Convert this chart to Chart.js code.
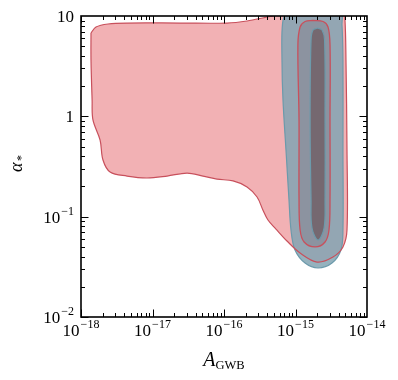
<!DOCTYPE html>
<html>
<head>
<meta charset="utf-8">
<script src="https://cdn.jsdelivr.net/npm/chart.js@4.4.1/dist/chart.umd.min.js"></script>
<style>
  html, body { margin: 0; padding: 0; background: #fff; }
  #wrap { width: 398px; height: 380px; }
</style>
</head>
<body>
<div id="wrap"><canvas id="contours" width="398" height="380"></canvas></div>
<script>
// contour outlines, as (A_GWB, alpha_*) pairs
const redOuterX = [1.38e-18, 1.38e-18, 1.43e-18, 1.47e-18, 1.85e-18, 2.03e-18, 2.55e-18, 4.40e-18, 8.37e-18, 1.60e-17, 3.04e-17, 5.09e-17, 7.98e-17, 1.34e-16, 2.10e-16, 2.90e-16, 3.51e-16, 4.12e-16, 5.33e-16, 7.60e-16, 1.16e-15, 2.00e-15, 3.34e-15, 4.61e-15, 5.25e-15, 5.25e-15, 5.08e-15, 4.92e-15, 4.61e-15, 1.16e-15, 5.51e-16, 3.99e-16, 2.10e-16, 1.10e-16, 2.43e-17, 4.40e-18, 2.39e-18, 1.62e-18, 1.38e-18];
const redOuterY = [6.77, 3.64, 1.46, 0.92, 0.58, 0.367, 0.279, 0.254, 0.243, 0.254, 0.272, 0.254, 0.237, 0.227, 0.198, 0.157, 0.116, 0.0927, 0.0753, 0.0572, 0.0434, 0.0353, 0.0396, 0.0499, 0.0736, 0.461, 3.64, 9.12, 12, 12, 10.2, 9.77, 8.92, 8.51, 8.51, 8.51, 8.32, 7.76, 6.77];

const blueOuterX = [7.8e-16, 6.6e-16, 6.47e-16, 6.68e-16, 7.36e-16, 8.11e-16, 8.65e-16, 9.84e-16, 1.36e-15, 2.07e-15, 3.24e-15, 4.32e-15, 4.61e-15, 4.61e-15, 4.61e-15, 4.47e-15, 4.19e-15, 7.8e-16];
const blueOuterY = [12.9, 8.5, 3.64, 1.46, 0.461, 0.147, 0.0736, 0.0465, 0.0345, 0.0308, 0.0345, 0.0465, 0.0736, 0.461, 3.64, 8.13, 12.9, 12.9];

const redInnerX = [1.76e-15, 2.43e-15, 2.85e-15, 3.04e-15, 3.04e-15, 3.04e-15, 2.94e-15, 2.59e-15, 1.88e-15, 1.32e-15, 1.16e-15, 1.12e-15, 1.12e-15, 1.08e-15, 1.16e-15, 1.36e-15, 1.76e-15];
const redInnerY = [9.02, 8.81, 7.77, 5.14, 0.918, 0.147, 0.0736, 0.0559, 0.0499, 0.0559, 0.0736, 0.147, 0.918, 5.14, 7.77, 8.81, 9.02];

const blueInnerX = [2.03e-15, 2.35e-15, 2.55e-15, 2.59e-15, 2.59e-15, 2.51e-15, 2.07e-15, 1.70e-15, 1.65e-15, 1.60e-15, 1.65e-15, 1.76e-15, 2.03e-15];
const blueInnerY = [7.59, 7.25, 5.77, 0.918, 0.147, 0.0771, 0.0585, 0.0771, 0.147, 0.918, 5.77, 7.25, 7.59];

const xTickValues = [1e-18, 1e-17, 1e-16, 1e-15, 1e-14];
const xTickLabels = [['10', '\u221218'], ['10', '\u221217'], ['10', '\u221216'], ['10', '\u221215'], ['10', '\u221214']];
const yTickValues = [0.01, 0.1, 1, 10];
const yTickLabels = [['10', '\u22122'], ['10', '\u22121'], ['1', ''], ['10', '']];

const SERIF = '"Liberation Serif", "DejaVu Serif", serif';

function pts(xs, ys) {
    return xs.map((x, i) => ({ x: x, y: ys[i] }));
}

function shape(xs, ys, fillColor, lineColor, lineWidth, order) {
    return {
        data: pts(xs, ys),
        showLine: true,
        pointRadius: 0,
        pointHoverRadius: 0,
        tension: 0.35,
        fill: fillColor ? 'shape' : false,
        backgroundColor: fillColor || 'transparent',
        borderColor: lineColor || 'transparent',
        borderWidth: lineWidth,
        clip: 0,
        order: order
    };
}

// superscript style label, e.g. 10^-16
function drawPow(ctx, mant, exp, x, y, align) {
    ctx.font = '17px ' + SERIF;
    const w1 = ctx.measureText(mant).width;
    ctx.font = '12px ' + SERIF;
    const w2 = exp ? ctx.measureText(exp).width + 1 : 0;
    const total = w1 + w2;
    const x0 = align === 'center' ? x - total / 2 : x - total;
    ctx.textAlign = 'left';
    ctx.textBaseline = 'alphabetic';
    ctx.font = '17px ' + SERIF;
    ctx.fillText(mant, x0, y);
    if (exp) {
        ctx.font = '12px ' + SERIF;
        ctx.fillText(exp, x0 + w1 + 1, y - 8);
    }
}

const framePlugin = {
    id: 'frame',
    afterDraw(chart) {
        const ctx = chart.ctx;
        const a = chart.chartArea;
        const xs = chart.scales.x;
        const ys = chart.scales.y;
        ctx.save();
        ctx.strokeStyle = '#000';
        ctx.fillStyle = '#000';

        // ticks, pointing inwards on every side
        ctx.lineWidth = 1;
        ctx.beginPath();
        for (let d = -18; d < -14; d++) {
            for (let m = 1; m < 10; m++) {
                const px = Math.round(xs.getPixelForValue(m * Math.pow(10, d))) + 0.5;
                const len = m === 1 ? 7.5 : 4;
                ctx.moveTo(px, a.bottom); ctx.lineTo(px, a.bottom - len);
                ctx.moveTo(px, a.top); ctx.lineTo(px, a.top + len);
            }
        }
        for (let d = -2; d < 1; d++) {
            for (let m = 1; m < 10; m++) {
                const py = Math.round(ys.getPixelForValue(m * Math.pow(10, d))) + 0.5;
                const len = m === 1 ? 7.5 : 4;
                ctx.moveTo(a.left, py); ctx.lineTo(a.left + len, py);
                ctx.moveTo(a.right, py); ctx.lineTo(a.right - len, py);
            }
        }
        ctx.stroke();

        ctx.lineWidth = 1.6;
        ctx.strokeRect(a.left, a.top, a.right - a.left, a.bottom - a.top);

        // tick labels
        xTickValues.forEach((v, i) => {
            drawPow(ctx, xTickLabels[i][0], xTickLabels[i][1], xs.getPixelForValue(v), a.bottom + 19, 'center');
        });
        yTickValues.forEach((v, i) => {
            drawPow(ctx, yTickLabels[i][0], yTickLabels[i][1], a.left - 7, ys.getPixelForValue(v) + 6, 'right');
        });

        // axis titles
        ctx.textAlign = 'left';
        ctx.font = 'italic 20px ' + SERIF;
        const aw = ctx.measureText('A').width;
        ctx.font = '12.5px ' + SERIF;
        const gw = ctx.measureText('GWB').width;
        const cx = (a.left + a.right) / 2 - (aw + gw) / 2;
        ctx.font = 'italic 20px ' + SERIF;
        ctx.fillText('A', cx, 366);
        ctx.font = '12.5px ' + SERIF;
        ctx.fillText('GWB', cx + aw, 369);

        ctx.translate(22, 167);
        ctx.rotate(-Math.PI / 2);
        ctx.font = 'italic 18px ' + SERIF;
        ctx.fillText('\u03b1', -5, 0);
        ctx.font = '12px ' + SERIF;
        ctx.fillText('*', 6, 3);
        ctx.restore();
    }
};

new Chart(document.getElementById('contours'), {
    type: 'scatter',
    data: {
        datasets: [
            shape(redOuterX, redOuterY, '#f2b1b4', null, 0, 6),
            shape(blueOuterX, blueOuterY, 'rgba(130, 164, 179, 0.85)', '#6c9aab', 1.2, 5),
            shape(redInnerX, redInnerY, '#8c93a0', null, 0, 4),
            shape(blueInnerX, blueInnerY, '#756870', '#6c9aab', 1.2, 3),
            shape(redOuterX, redOuterY, null, '#c8505c', 1.2, 2),
            shape(redInnerX, redInnerY, null, '#c8505c', 1.3, 1)
        ]
    },
    options: {
        responsive: false,
        animation: false,
        devicePixelRatio: 1,
        layout: { padding: { left: 81, right: 31, top: 16, bottom: 63 } },
        elements: { line: { capBezierPoints: false } },
        plugins: { legend: { display: false }, tooltip: { enabled: false } },
        scales: {
            x: { type: 'logarithmic', min: 1e-18, max: 1e-14, display: false },
            y: { type: 'logarithmic', min: 0.01, max: 10, display: false }
        }
    },
    plugins: [framePlugin]
});
</script>
</body>
</html>
